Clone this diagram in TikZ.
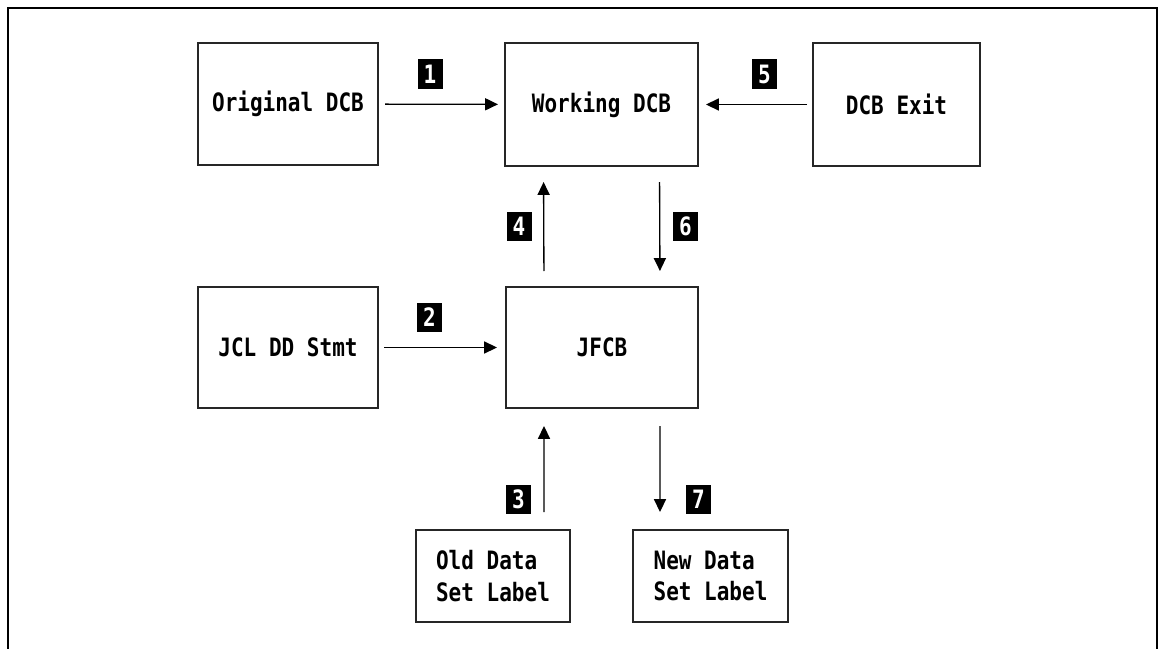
\documentclass[tikz,border=0pt]{standalone}
\usepackage{fontspec}
\setmonofont[FakeStretch=0.83]{DejaVu Sans Mono}
\usepackage{tikz}
\usetikzlibrary{positioning,arrows.meta}

\begin{document}
\begin{tikzpicture}[x=0.25mm, y=-0.25mm,
  blk/.style={draw=black!85, line width=0.5mm, align=left, inner sep=0pt, font=\ttfamily\bfseries\fontsize{18}{22.5}\selectfont},
  tag/.style={fill=black, text=white, inner sep=0pt, minimum width=6.25mm, minimum height=7.25mm, font=\ttfamily\bfseries\fontsize{18}{20}\selectfont},
  flow/.style={-{Triangle[length=3.2mm, width=3mm]}, line width=0.33mm}]
\useasboundingbox (0,0) rectangle (1159,649);
\draw[line width=0.5mm] (8,649) -- (8,8) -- (1157,8) -- (1157,649);
% boxes
\node[blk, minimum width=45mm,    minimum height=30.5mm]  (orig) at (288,104)     {Original DCB};
\node[blk, minimum width=48.25mm, minimum height=30.75mm] (work) at (601.5,104.5) {Working DCB};
\node[blk, minimum width=41.75mm, minimum height=30.75mm] (exit) at (896.5,104.5) {DCB Exit};
\node[blk, minimum width=45mm,    minimum height=30.25mm] (jcl)  at (288,347.5)   {JCL DD Stmt};
\node[blk, minimum width=48mm,    minimum height=30.25mm] (jfcb) at (602,347.5)   {JFCB};
\node[blk, minimum width=38.5mm,  minimum height=23mm]    (old)  at (493,576)     {Old Data\\Set Label};
\node[blk, minimum width=38.75mm, minimum height=23mm]    (new)  at (710.5,576)   {New Data\\Set Label};
% step numbers
\node[tag] (t1) at (430,74)    {1};
\node[tag] (t2) at (429.5,317.5) {2};
\node[tag] (t3) at (518.5,499) {3};
\node[tag] (t4) at (519,226.5) {4};
\node[tag] (t5) at (764.5,74)  {5};
\node[tag] (t6) at (685.5,226.5) {6};
\node[tag] (t7) at (698.5,499) {7};
% flows
\draw[flow, shorten <=1.5mm, shorten >=1.5mm] (orig) -- (work);
\draw[flow, shorten <=1.25mm, shorten >=1.75mm] (exit) -- (work);
\draw[flow, shorten <=1.25mm, shorten >=2mm] (jcl) -- (jfcb);
\draw[flow, shorten <=3.75mm, shorten >=3.75mm] ([xshift=-14.5mm]jfcb.north) -- ([xshift=-14.5mm]work.south);
\draw[flow, shorten <=3.75mm, shorten >=3.75mm] ([xshift=14.5mm]work.south) -- ([xshift=14.5mm]jfcb.north);
\draw[flow, shorten <=4.25mm, shorten >=4.25mm] ([xshift=12.75mm]old.north) -- ([xshift=-14.5mm]jfcb.south);
\draw[flow, shorten <=4.25mm, shorten >=4.25mm] ([xshift=14.5mm]jfcb.south) -- ([xshift=-12.625mm]new.north);
\end{tikzpicture}
\end{document}
